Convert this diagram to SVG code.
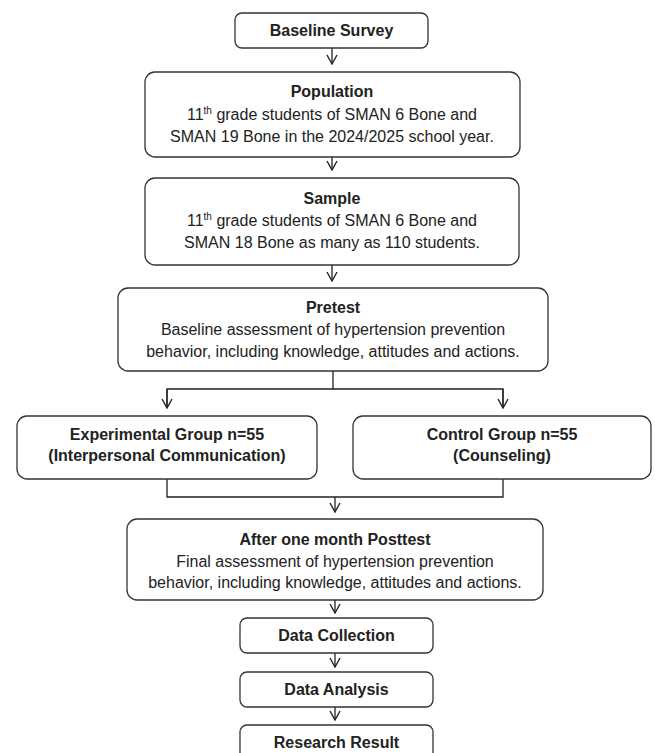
<svg xmlns="http://www.w3.org/2000/svg" width="655" height="753" viewBox="0 0 655 753">
<defs>
<marker id="v" viewBox="0 0 11 12" refX="10" refY="6" markerWidth="11" markerHeight="12" markerUnits="userSpaceOnUse" orient="auto">
<polyline points="1,1 10,6 1,11" fill="none" stroke="#222" stroke-width="1.4"/>
</marker>
<style>
.box{fill:#fff;stroke:#333;stroke-width:1.3}
.t{font-family:"Liberation Sans",Arial,sans-serif;font-size:16px;fill:#222;text-anchor:middle}
.b{font-weight:bold}
.sup{font-size:10px}
.c{fill:none;stroke:#222;stroke-width:1.3}
</style>
</defs>
<rect width="655" height="753" fill="#fff"/>
<g id="connectors">
<line class="c" x1="332" y1="48" x2="332" y2="64" marker-end="url(#v)"/>
<line class="c" x1="332" y1="157" x2="332" y2="170" marker-end="url(#v)"/>
<line class="c" x1="332" y1="265" x2="332" y2="281" marker-end="url(#v)"/>
<line class="c" x1="333" y1="371" x2="333" y2="389"/>
<polyline class="c" points="167,408 167,389 503,389 503,408"/>
<line class="c" x1="167" y1="389" x2="167" y2="408" marker-end="url(#v)"/>
<line class="c" x1="503" y1="389" x2="503" y2="408" marker-end="url(#v)"/>
<polyline class="c" points="167,479 167,497 503,497 503,479"/>
<line class="c" x1="335" y1="497" x2="335" y2="512" marker-end="url(#v)"/>
<line class="c" x1="335" y1="600" x2="335" y2="613" marker-end="url(#v)"/>
<line class="c" x1="335" y1="653" x2="335" y2="667" marker-end="url(#v)"/>
<line class="c" x1="335" y1="707" x2="335" y2="720" marker-end="url(#v)"/>
</g>
<g id="baseline-survey">
<rect class="box" x="235" y="13" width="193" height="35" rx="7"/>
<text class="t b" x="331.5" y="36">Baseline Survey</text>
</g>
<g id="population">
<rect class="box" x="145" y="72" width="375" height="85" rx="10"/>
<text class="t b" x="332" y="97">Population</text>
<text class="t" x="332" y="120">11<tspan class="sup" dy="-6">th</tspan><tspan dy="6"> grade students of SMAN 6 Bone and</tspan></text>
<text class="t" x="332" y="142">SMAN 19 Bone in the 2024/2025 school year.</text>
</g>
<g id="sample">
<rect class="box" x="145" y="178" width="374" height="87" rx="10"/>
<text class="t b" x="332" y="204">Sample</text>
<text class="t" x="332" y="226">11<tspan class="sup" dy="-6">th</tspan><tspan dy="6"> grade students of SMAN 6 Bone and</tspan></text>
<text class="t" x="332" y="248">SMAN 18 Bone as many as 110 students.</text>
</g>
<g id="pretest">
<rect class="box" x="118" y="288" width="430" height="83" rx="10"/>
<text class="t b" x="333" y="313">Pretest</text>
<text class="t" x="333" y="335">Baseline assessment of hypertension prevention</text>
<text class="t" x="333" y="357">behavior, including knowledge, attitudes and actions.</text>
</g>
<g id="experimental-group">
<rect class="box" x="17" y="416" width="300" height="63" rx="10"/>
<text class="t b" x="167" y="440">Experimental Group n=55</text>
<text class="t b" x="167" y="461">(Interpersonal Communication)</text>
</g>
<g id="control-group">
<rect class="box" x="353" y="416" width="298" height="63" rx="10"/>
<text class="t b" x="502" y="440">Control Group n=55</text>
<text class="t b" x="502" y="461">(Counseling)</text>
</g>
<g id="posttest">
<rect class="box" x="127" y="519" width="416" height="81" rx="10"/>
<text class="t b" x="335" y="545">After one month Posttest</text>
<text class="t" x="335" y="567">Final assessment of hypertension prevention</text>
<text class="t" x="335" y="588">behavior, including knowledge, attitudes and actions.</text>
</g>
<g id="data-collection">
<rect class="box" x="240" y="618" width="193" height="35" rx="7"/>
<text class="t b" x="336.5" y="641">Data Collection</text>
</g>
<g id="data-analysis">
<rect class="box" x="240" y="672" width="193" height="35" rx="7"/>
<text class="t b" x="336.5" y="695">Data Analysis</text>
</g>
<g id="research-result">
<rect class="box" x="240" y="725" width="193" height="35" rx="7"/>
<text class="t b" x="336.5" y="748">Research Result</text>
</g>
</svg>
